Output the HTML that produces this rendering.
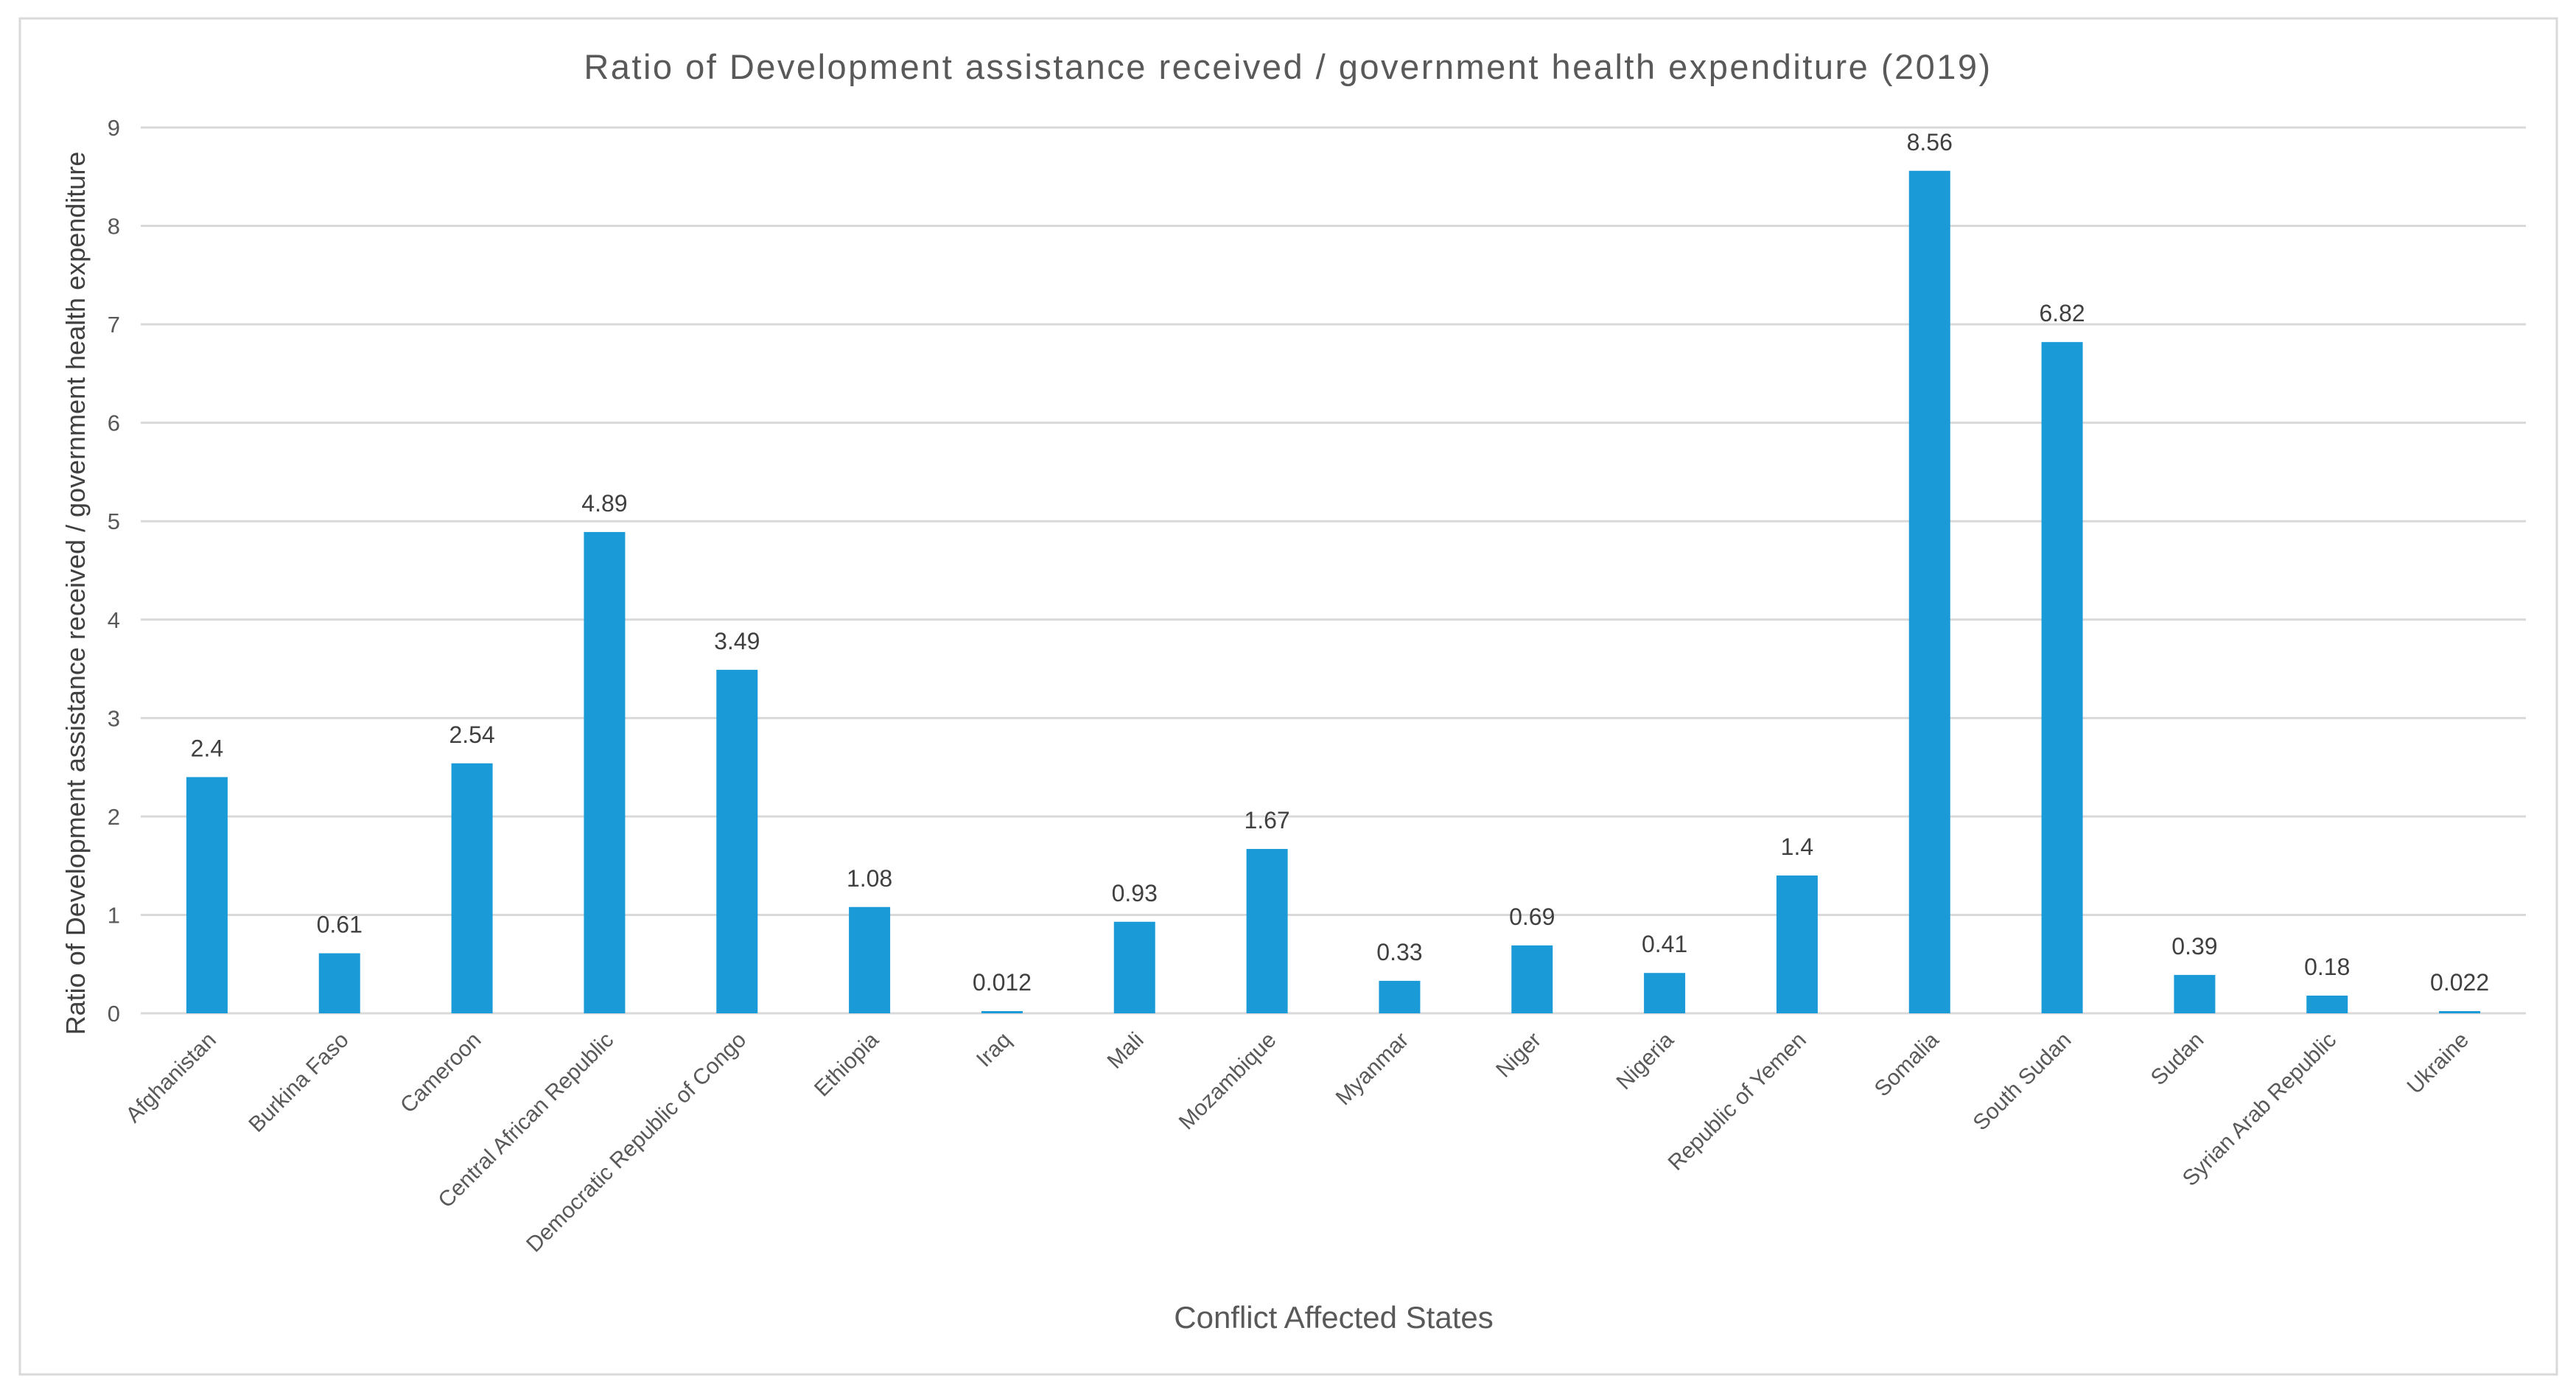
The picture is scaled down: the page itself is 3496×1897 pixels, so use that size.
<!DOCTYPE html>
<html><head><meta charset="utf-8"><style>
html,body{margin:0;padding:0;background:#fff;}
svg{display:block;font-family:"Liberation Sans",sans-serif;}
</style></head><body>
<svg id="chart" width="3496" height="1897" viewBox="0 0 3496 1897" xmlns="http://www.w3.org/2000/svg">
<rect x="27" y="25" width="3443" height="1840" fill="#fff" stroke="#d9d9d9" stroke-width="3"/>
<text x="1748" y="107" text-anchor="middle" font-size="47" letter-spacing="2.5" fill="#595959">Ratio of Development assistance received / government health expenditure (2019)</text>
<text transform="translate(115,805) rotate(-90)" text-anchor="middle" font-size="36" fill="#404040">Ratio of Development assistance received / government health expenditure</text>
<text x="1810" y="1802" text-anchor="middle" font-size="42" fill="#595959">Conflict Affected States</text>
<g id="grid"></g><g id="bars"></g><g id="labels"></g>
</svg>
<script>
const categories=["Afghanistan","Burkina Faso","Cameroon","Central African Republic","Democratic Republic of Congo","Ethiopia","Iraq","Mali","Mozambique","Myanmar","Niger","Nigeria","Republic of Yemen","Somalia","South Sudan","Sudan","Syrian Arab Republic","Ukraine"];
const values=[2.4,0.61,2.54,4.89,3.49,1.08,0.012,0.93,1.67,0.33,0.69,0.41,1.4,8.56,6.82,0.39,0.18,0.022];
const valueLabels=["2.4","0.61","2.54","4.89","3.49","1.08","0.012","0.93","1.67","0.33","0.69","0.41","1.4","8.56","6.82","0.39","0.18","0.022"];
const yTicks=[0,1,2,3,4,5,6,7,8,9];
const NS="http://www.w3.org/2000/svg";
const L=191,R=3428,T=173,B=1375,yMax=9;
const bw=(R-L)/categories.length, barW=56;
function y(v){return B-(v/yMax)*(B-T);}
function x(i){return L+bw*(i+0.5);}
function mk(tag,attrs,parent){const e=document.createElementNS(NS,tag);for(const k in attrs)e.setAttribute(k,attrs[k]);parent.appendChild(e);return e;}
const grid=document.getElementById('grid'),bars=document.getElementById('bars'),labels=document.getElementById('labels');
yTicks.forEach(t=>{
  const l=mk('line',{x1:L,x2:R,y1:y(t),y2:y(t),stroke:'#d9d9d9','stroke-width':3},grid);
  
  
  const tx=mk('text',{x:L-28,y:y(t)+11,'text-anchor':'end','font-size':31,fill:'#595959'},grid);
  tx.textContent=t;
  
  
});
categories.forEach((c,i)=>{
  const h=Math.max(B-y(values[i]),3);
  const r=mk('rect',{x:x(i)-barW/2,y:B-h,width:barW,height:h,fill:'#1a9bd7'},bars);
  
  
  const v=mk('text',{x:x(i),y:B-h-28,'text-anchor':'middle','font-size':32,fill:'#404040'},labels);
  v.textContent=valueLabels[i];
  
  
  const cl=mk('text',{transform:`translate(${x(i)+14},${B+38}) rotate(-45)`,'text-anchor':'end','font-size':30,fill:'#595959'},labels);
  cl.textContent=c;
  
  
});
</script>
</body></html>
